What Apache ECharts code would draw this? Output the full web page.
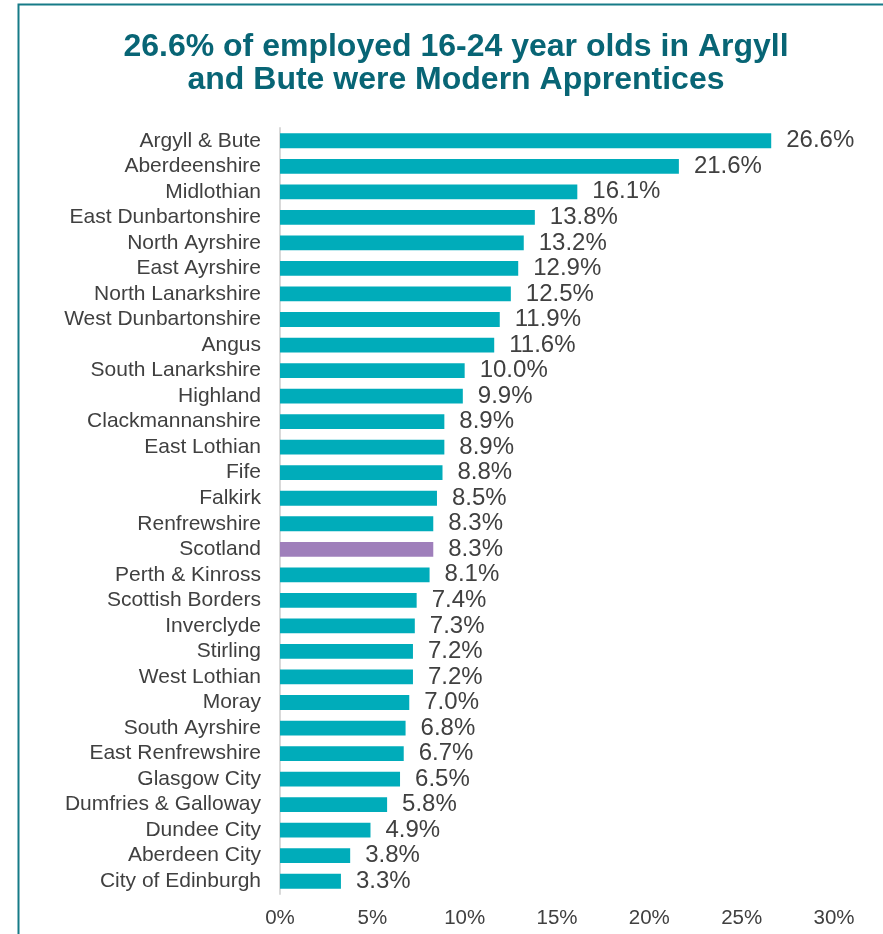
<!DOCTYPE html>
<html>
<head>
<meta charset="utf-8">
<script src="https://cdn.jsdelivr.net/npm/echarts@6/dist/echarts.min.js"></script>
<style>
  html, body { margin: 0; padding: 0; background: #fff; }
  #chart { width: 883px; height: 934px; }
</style>
</head>
<body>
<div id="chart"></div>
<script>
// 地区名称
const areas = [
  'Argyll & Bute', 'Aberdeenshire', 'Midlothian', 'East Dunbartonshire', 'North Ayrshire',
  'East Ayrshire', 'North Lanarkshire', 'West Dunbartonshire', 'Angus', 'South Lanarkshire',
  'Highland', 'Clackmannanshire', 'East Lothian', 'Fife', 'Falkirk', 'Renfrewshire',
  'Scotland', 'Perth & Kinross', 'Scottish Borders', 'Inverclyde', 'Stirling', 'West Lothian',
  'Moray', 'South Ayrshire', 'East Renfrewshire', 'Glasgow City', 'Dumfries & Galloway',
  'Dundee City', 'Aberdeen City', 'City of Edinburgh'
]

// 现代学徒占比 (%)
const shares = [
  26.6, 21.6, 16.1, 13.8, 13.2, 12.9, 12.5, 11.9, 11.6, 10.0,
  9.9, 8.9, 8.9, 8.8, 8.5, 8.3, 8.3, 8.1, 7.4, 7.3, 7.2, 7.2,
  7.0, 6.8, 6.7, 6.5, 5.8, 4.9, 3.8, 3.3
]

// 坐标轴刻度
const axisMax = 30
const axisStep = 5

const highlight = 'Scotland'

const chart = echarts.init(document.getElementById('chart'))

chart.setOption({
  animation: false,
  textStyle: { fontFamily: 'Liberation Sans, Arial, sans-serif' },
  title: {
    text: '26.6% of employed 16-24 year olds in Argyll\nand Bute were Modern Apprentices',
    left: 451,
    top: 26,
    textAlign: 'center',
    textStyle: {
      fontSize: 32,
      fontWeight: 'bold',
      color: '#086575',
      lineHeight: 33
    }
  },
  graphic: [
    {
      type: 'rect',
      shape: { x: 18.5, y: 4.5, width: 1000, height: 1000 },
      style: { fill: 'none', stroke: '#167b87', lineWidth: 2 },
      silent: true
    }
  ],
  grid: {
    left: 280,
    right: 49,
    top: 128,
    bottom: 40,
    containLabel: false
  },
  xAxis: {
    type: 'value',
    min: 0,
    max: axisMax,
    interval: axisStep,
    axisLine: { show: false },
    axisTick: { show: false },
    splitLine: { show: false },
    axisLabel: {
      formatter: '{value}%',
      fontSize: 20.5,
      color: '#404040',
      margin: 14
    }
  },
  yAxis: {
    type: 'category',
    data: areas,
    inverse: true,
    axisLine: { show: true, lineStyle: { color: '#d9d9d9', width: 2 } },
    axisTick: { show: false },
    axisLabel: {
      interval: 0,
      fontSize: 21,
      color: '#404040',
      margin: 19
    }
  },
  series: [
    {
      type: 'bar',
      data: shares.map((v, i) => ({
        value: v,
        itemStyle: { color: areas[i] === highlight ? '#9f7fbb' : '#00acba' }
      })),
      barCategoryGap: '42%',
      label: {
        show: true,
        position: 'right',
        distance: 15,
        formatter: (p) => p.value.toFixed(1) + '%',
        fontSize: 24,
        color: '#404040'
      }
    }
  ]
})
</script>
</body>
</html>
